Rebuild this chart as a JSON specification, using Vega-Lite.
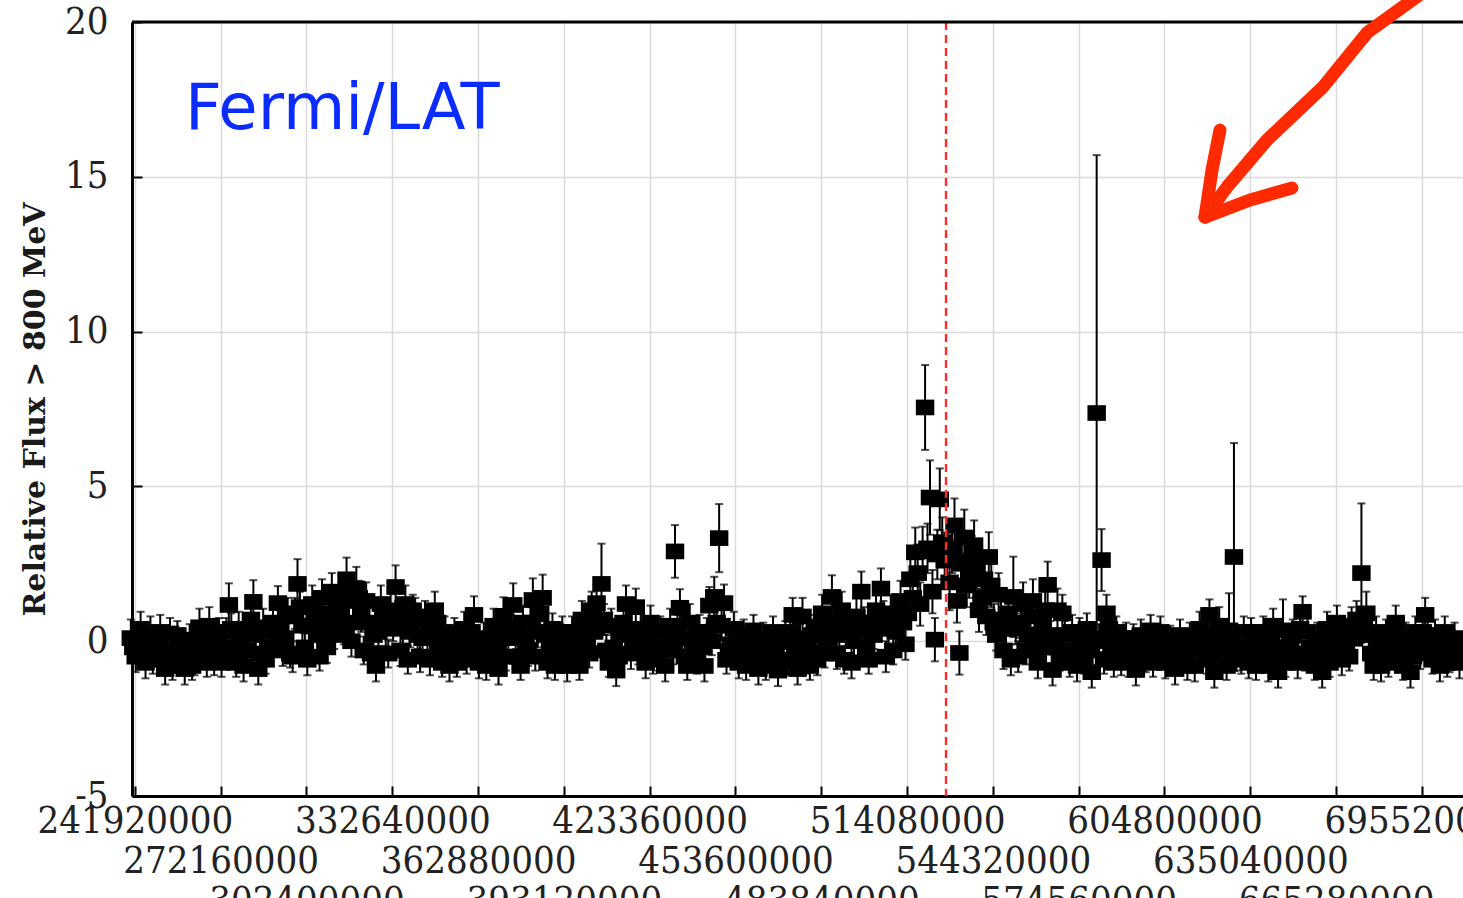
{
  "$schema": "https://vega.github.io/schema/vega-lite/v6.json",
  "width": 1331,
  "height": 774,
  "autosize": {"type": "none"},
  "padding": {"left": 132, "top": 22, "right": 0, "bottom": 102},
  "background": "white",
  "config": {
    "view": {"stroke": null},
    "axis": {
      "labelFont": "DejaVu Serif Condensed, DejaVu Serif",
      "labelColor": "#222222",
      "labelFontSize": 38,
      "labelLimit": 1000,
      "domainColor": "black",
      "domainWidth": 3,
      "tickColor": "black",
      "tickWidth": 2,
      "gridColor": "#dadada",
      "gridWidth": 1.5
    }
  },
  "datasets": {
    "flux": [
      {"t":240480000,"f":0.1,"e":0.6},{"t":242208000,"f":-0.5,"e":0.5},{"t":243936000,"f":0.4,"e":0.55},{"t":245664000,"f":-0.7,"e":0.5},{"t":247392000,"f":0.2,"e":0.6},{"t":249120000,"f":-0.3,"e":0.5},{"t":250848000,"f":0.3,"e":0.55},{"t":252576000,"f":-0.9,"e":0.5},{"t":254304000,"f":0.25,"e":0.5},{"t":256032000,"f":-0.4,"e":0.5},
      {"t":257760000,"f":-0.1,"e":0.5},{"t":259488000,"f":-0.9,"e":0.5},{"t":261216000,"f":0.05,"e":0.5},{"t":262944000,"f":-0.6,"e":0.5},{"t":264672000,"f":0.45,"e":0.6},{"t":266400000,"f":-0.3,"e":0.5},{"t":268128000,"f":0.5,"e":0.6},{"t":269856000,"f":-0.6,"e":0.5},{"t":271584000,"f":0.2,"e":0.55},{"t":273312000,"f":-0.2,"e":0.5},
      {"t":275040000,"f":1.17,"e":0.7},{"t":276768000,"f":-0.4,"e":0.5},{"t":278496000,"f":0.4,"e":0.55},{"t":280224000,"f":-0.8,"e":0.5},{"t":281952000,"f":0.3,"e":0.5},{"t":283680000,"f":1.27,"e":0.7},{"t":285408000,"f":-0.9,"e":0.5},{"t":287136000,"f":0.45,"e":0.6},{"t":288864000,"f":-0.2,"e":0.5},{"t":290592000,"f":0.6,"e":0.6},
      {"t":292320000,"f":1.23,"e":0.55},{"t":294048000,"f":-0.3,"e":0.5},{"t":295776000,"f":0.8,"e":0.6},{"t":297504000,"f":-0.5,"e":0.5},{"t":299232000,"f":1.85,"e":0.8},{"t":300960000,"f":0.5,"e":0.6},{"t":302688000,"f":-0.6,"e":0.5},{"t":304416000,"f":1.2,"e":0.6},{"t":306144000,"f":0.2,"e":0.55},{"t":307872000,"f":1.4,"e":0.6},
      {"t":309600000,"f":-0.2,"e":0.5},{"t":311328000,"f":1.6,"e":0.6},{"t":313056000,"f":0.7,"e":0.6},{"t":314784000,"f":1.5,"e":0.65},{"t":316512000,"f":2.0,"e":0.7},{"t":318240000,"f":0.0,"e":0.5},{"t":319968000,"f":1.7,"e":0.7},{"t":321696000,"f":0.9,"e":0.6},{"t":323424000,"f":1.3,"e":0.6},{"t":325152000,"f":-0.4,"e":0.5},
      {"t":326880000,"f":-0.8,"e":0.5},{"t":328608000,"f":1.2,"e":0.6},{"t":330336000,"f":0.4,"e":0.55},{"t":332064000,"f":1.0,"e":0.6},{"t":333792000,"f":1.75,"e":0.7},{"t":335520000,"f":-0.3,"e":0.5},{"t":337248000,"f":1.2,"e":0.6},{"t":338976000,"f":0.3,"e":0.5},{"t":340704000,"f":0.8,"e":0.6},{"t":342432000,"f":-0.5,"e":0.5},
      {"t":344160000,"f":0.7,"e":0.6},{"t":345888000,"f":-0.6,"e":0.5},{"t":347616000,"f":1.0,"e":0.6},{"t":349344000,"f":-0.1,"e":0.5},{"t":351072000,"f":0.3,"e":0.5},{"t":352800000,"f":-0.8,"e":0.5},{"t":354528000,"f":0.2,"e":0.55},{"t":356256000,"f":-0.4,"e":0.5},{"t":357984000,"f":0.4,"e":0.55},{"t":359712000,"f":-0.2,"e":0.5},
      {"t":361440000,"f":0.85,"e":0.6},{"t":363168000,"f":-0.7,"e":0.5},{"t":364896000,"f":0.1,"e":0.5},{"t":366624000,"f":-0.4,"e":0.5},{"t":368352000,"f":0.5,"e":0.55},{"t":370080000,"f":-0.9,"e":0.5},{"t":371808000,"f":0.82,"e":0.6},{"t":373536000,"f":0.1,"e":0.5},{"t":375264000,"f":1.17,"e":0.7},{"t":376992000,"f":-0.5,"e":0.5},
      {"t":378720000,"f":0.6,"e":0.55},{"t":380448000,"f":-0.3,"e":0.5},{"t":382176000,"f":1.33,"e":0.7},{"t":383904000,"f":0.3,"e":0.5},{"t":385632000,"f":1.4,"e":0.75},{"t":387360000,"f":-0.7,"e":0.5},{"t":389088000,"f":0.4,"e":0.5},{"t":390816000,"f":-0.2,"e":0.5},{"t":392544000,"f":0.3,"e":0.5},{"t":394272000,"f":-0.8,"e":0.5},
      {"t":396000000,"f":0.3,"e":0.5},{"t":397728000,"f":-0.5,"e":0.5},{"t":399456000,"f":0.7,"e":0.6},{"t":401184000,"f":0.0,"e":0.5},{"t":402912000,"f":1.0,"e":0.6},{"t":404640000,"f":1.23,"e":0.6},{"t":406368000,"f":1.85,"e":1.3},{"t":408096000,"f":-0.3,"e":0.5},{"t":409824000,"f":0.5,"e":0.55},{"t":411552000,"f":-0.95,"e":0.5},
      {"t":413280000,"f":0.2,"e":0.5},{"t":415008000,"f":1.2,"e":0.6},{"t":416736000,"f":-0.4,"e":0.5},{"t":418464000,"f":1.1,"e":0.6},{"t":420192000,"f":0.4,"e":0.55},{"t":421920000,"f":-0.7,"e":0.5},{"t":423648000,"f":0.6,"e":0.55},{"t":425376000,"f":-0.2,"e":0.5},{"t":427104000,"f":0.3,"e":0.5},{"t":428832000,"f":-0.8,"e":0.5},
      {"t":430560000,"f":0.5,"e":0.55},{"t":432288000,"f":2.9,"e":0.85},{"t":434016000,"f":1.08,"e":0.6},{"t":435744000,"f":-0.5,"e":0.5},{"t":437472000,"f":0.6,"e":0.6},{"t":439200000,"f":-0.1,"e":0.5},{"t":440928000,"f":0.3,"e":0.55},{"t":442656000,"f":-0.8,"e":0.5},{"t":444384000,"f":1.15,"e":0.6},{"t":446112000,"f":1.43,"e":0.65},
      {"t":447840000,"f":3.33,"e":1.1},{"t":449568000,"f":1.23,"e":0.6},{"t":451296000,"f":-0.3,"e":0.5},{"t":453024000,"f":0.4,"e":0.55},{"t":454752000,"f":-0.7,"e":0.5},{"t":456480000,"f":0.2,"e":0.5},{"t":458208000,"f":-0.4,"e":0.5},{"t":459936000,"f":0.35,"e":0.5},{"t":461664000,"f":-0.9,"e":0.5},{"t":463392000,"f":0.1,"e":0.5},
      {"t":465120000,"f":-0.5,"e":0.5},{"t":466848000,"f":0.3,"e":0.5},{"t":468576000,"f":-0.95,"e":0.5},{"t":470304000,"f":0.0,"e":0.5},{"t":472032000,"f":-0.6,"e":0.5},{"t":473760000,"f":0.85,"e":0.55},{"t":475488000,"f":-0.9,"e":0.5},{"t":477216000,"f":0.8,"e":0.6},{"t":478944000,"f":-0.3,"e":0.5},{"t":480672000,"f":0.2,"e":0.5},
      {"t":482400000,"f":-0.6,"e":0.5},{"t":484128000,"f":0.9,"e":0.6},{"t":485856000,"f":0.1,"e":0.5},{"t":487584000,"f":1.43,"e":0.7},{"t":489312000,"f":-0.4,"e":0.5},{"t":491040000,"f":1.0,"e":0.6},{"t":492768000,"f":0.3,"e":0.5},{"t":494496000,"f":-0.7,"e":0.5},{"t":496224000,"f":0.8,"e":0.6},{"t":497952000,"f":1.6,"e":0.65},
      {"t":499680000,"f":-0.2,"e":0.5},{"t":501408000,"f":0.6,"e":0.6},{"t":503136000,"f":1.0,"e":0.6},{"t":504864000,"f":1.7,"e":0.65},{"t":506592000,"f":-0.5,"e":0.5},{"t":508320000,"f":0.9,"e":0.6},{"t":510048000,"f":0.3,"e":0.55},{"t":511776000,"f":1.3,"e":0.65},{"t":513504000,"f":-0.1,"e":0.5},{"t":515232000,"f":2.0,"e":0.7},
      {"t":516960000,"f":2.87,"e":0.8},{"t":518688000,"f":1.2,"e":0.7},{"t":520416000,"f":7.55,"e":1.37},{"t":522144000,"f":4.64,"e":1.2},{"t":523872000,"f":0.05,"e":0.7},{"t":525600000,"f":4.58,"e":1.0},{"t":527328000,"f":2.6,"e":0.9},{"t":529056000,"f":1.9,"e":0.9},{"t":530784000,"f":3.74,"e":0.87},{"t":532512000,"f":-0.38,"e":0.7},
      {"t":534240000,"f":3.35,"e":0.9},{"t":535968000,"f":2.2,"e":0.8},{"t":537696000,"f":3.1,"e":0.8},{"t":539424000,"f":1.0,"e":0.7},{"t":541152000,"f":2.0,"e":0.8},{"t":542880000,"f":2.72,"e":0.8},{"t":544608000,"f":0.6,"e":0.6},{"t":546336000,"f":1.5,"e":0.7},{"t":548064000,"f":-0.3,"e":0.6},{"t":549792000,"f":0.9,"e":0.6},
      {"t":551520000,"f":1.43,"e":1.3},{"t":553248000,"f":-0.5,"e":0.5},{"t":554976000,"f":1.2,"e":0.7},{"t":556704000,"f":0.2,"e":0.6},{"t":558432000,"f":1.3,"e":0.7},{"t":560160000,"f":-0.7,"e":0.5},{"t":561888000,"f":0.5,"e":0.6},{"t":563616000,"f":1.82,"e":0.75},{"t":565344000,"f":-0.93,"e":0.5},{"t":567072000,"f":1.0,"e":0.7},
      {"t":568800000,"f":0.9,"e":0.6},{"t":570528000,"f":-0.4,"e":0.5},{"t":572256000,"f":0.3,"e":0.55},{"t":573984000,"f":-0.8,"e":0.5},{"t":575712000,"f":0.1,"e":0.5},{"t":577440000,"f":0.4,"e":0.5},{"t":579168000,"f":-1.0,"e":0.5},{"t":580896000,"f":7.37,"e":8.33},{"t":582624000,"f":2.62,"e":1.0},{"t":584352000,"f":0.9,"e":0.6},
      {"t":586080000,"f":-0.2,"e":0.5},{"t":587808000,"f":0.3,"e":0.5},{"t":589536000,"f":-0.6,"e":0.5},{"t":591264000,"f":0.1,"e":0.5},{"t":592992000,"f":-0.4,"e":0.5},{"t":594720000,"f":-0.93,"e":0.5},{"t":596448000,"f":0.2,"e":0.5},{"t":598176000,"f":-0.5,"e":0.5},{"t":599904000,"f":0.35,"e":0.5},{"t":601632000,"f":-0.2,"e":0.5},
      {"t":603360000,"f":0.3,"e":0.5},{"t":605088000,"f":-0.7,"e":0.5},{"t":606816000,"f":0.0,"e":0.5},{"t":608544000,"f":-0.9,"e":0.5},{"t":610272000,"f":0.2,"e":0.5},{"t":612000000,"f":-0.5,"e":0.5},{"t":613728000,"f":0.1,"e":0.5},{"t":615456000,"f":-0.8,"e":0.5},{"t":617184000,"f":0.4,"e":0.55},{"t":618912000,"f":-0.3,"e":0.5},
      {"t":620640000,"f":0.85,"e":0.5},{"t":622368000,"f":-1.0,"e":0.5},{"t":624096000,"f":0.5,"e":0.6},{"t":625824000,"f":-0.4,"e":0.5},{"t":627552000,"f":0.35,"e":1.2},{"t":629280000,"f":2.72,"e":3.68},{"t":631008000,"f":-0.2,"e":0.5},{"t":632736000,"f":0.3,"e":0.5},{"t":634464000,"f":-0.7,"e":0.5},{"t":636192000,"f":0.0,"e":0.5},
      {"t":637920000,"f":-0.5,"e":0.5},{"t":639648000,"f":0.3,"e":0.5},{"t":641376000,"f":-0.8,"e":0.5},{"t":643104000,"f":0.5,"e":0.55},{"t":644832000,"f":-1.0,"e":0.5},{"t":646560000,"f":0.35,"e":1.0},{"t":648288000,"f":-0.3,"e":0.5},{"t":650016000,"f":0.2,"e":0.5},{"t":651744000,"f":-0.7,"e":0.5},{"t":653472000,"f":0.95,"e":0.5},
      {"t":655200000,"f":0.3,"e":0.5},{"t":656928000,"f":-0.5,"e":0.5},{"t":658656000,"f":0.1,"e":0.5},{"t":660384000,"f":-1.0,"e":0.5},{"t":662112000,"f":0.4,"e":0.55},{"t":663840000,"f":-0.3,"e":0.5},{"t":665568000,"f":0.6,"e":0.55},{"t":667296000,"f":-0.6,"e":0.5},{"t":669024000,"f":0.2,"e":0.5},{"t":670752000,"f":0.5,"e":0.6},
      {"t":672480000,"f":0.7,"e":0.6},{"t":674208000,"f":2.2,"e":2.25},{"t":675936000,"f":0.9,"e":0.7},{"t":677664000,"f":-0.4,"e":0.5},{"t":679392000,"f":0.3,"e":0.5},{"t":681120000,"f":-0.8,"e":0.5},{"t":682848000,"f":0.2,"e":0.5},{"t":684576000,"f":-0.3,"e":0.5},{"t":686304000,"f":0.6,"e":0.55},{"t":688032000,"f":-0.5,"e":0.5},
      {"t":689760000,"f":0.1,"e":0.5},{"t":691488000,"f":-1.0,"e":0.5},{"t":693216000,"f":0.3,"e":0.5},{"t":694944000,"f":-0.4,"e":0.5},{"t":696672000,"f":0.85,"e":0.55},{"t":698400000,"f":-0.2,"e":0.5},{"t":700128000,"f":0.2,"e":0.5},{"t":701856000,"f":-0.8,"e":0.5},{"t":703584000,"f":0.3,"e":0.5},{"t":705312000,"f":-0.5,"e":0.5},
      {"t":707040000,"f":0.1,"e":0.5},{"t":708768000,"f":-0.7,"e":0.5},
      {"t":241344000,"f":-0.2,"e":0.45},{"t":243072000,"f":-0.1,"e":0.45},{"t":244800000,"f":-0.3,"e":0.45},{"t":246528000,"f":-0.2,"e":0.45},{"t":248256000,"f":-0.6,"e":0.45},{"t":249984000,"f":0.0,"e":0.45},{"t":251712000,"f":-0.4,"e":0.45},{"t":253440000,"f":-0.3,"e":0.45},{"t":255168000,"f":-0.8,"e":0.45},{"t":256896000,"f":0.2,"e":0.45},
      {"t":258624000,"f":-0.5,"e":0.45},{"t":260352000,"f":-0.3,"e":0.45},{"t":262080000,"f":-0.8,"e":0.45},{"t":263808000,"f":0.0,"e":0.45},{"t":265536000,"f":0.1,"e":0.45},{"t":267264000,"f":-0.7,"e":0.45},{"t":268992000,"f":0.0,"e":0.45},{"t":270720000,"f":-0.2,"e":0.45},{"t":272448000,"f":-0.7,"e":0.45},{"t":274176000,"f":0.3,"e":0.45},
      {"t":275904000,"f":0.4,"e":0.5},{"t":277632000,"f":-0.7,"e":0.45},{"t":279360000,"f":-0.1,"e":0.45},{"t":281088000,"f":-0.3,"e":0.45},{"t":282816000,"f":0.7,"e":0.5},{"t":284544000,"f":0.2,"e":0.45},{"t":286272000,"f":-0.4,"e":0.45},{"t":288000000,"f":-0.6,"e":0.45},{"t":289728000,"f":0.3,"e":0.45},{"t":291456000,"f":0.0,"e":0.45},
      {"t":293184000,"f":0.5,"e":0.5},{"t":294912000,"f":0.1,"e":0.45},{"t":296640000,"f":-0.4,"e":0.45},{"t":298368000,"f":0.9,"e":0.5},{"t":300096000,"f":1.1,"e":0.5},{"t":301824000,"f":-0.2,"e":0.45},{"t":303552000,"f":0.5,"e":0.5},{"t":305280000,"f":0.8,"e":0.5},{"t":307008000,"f":-0.5,"e":0.45},{"t":308736000,"f":0.6,"e":0.5},
      {"t":310464000,"f":0.9,"e":0.5},{"t":312192000,"f":0.2,"e":0.45},{"t":313920000,"f":1.1,"e":0.5},{"t":315648000,"f":0.4,"e":0.5},{"t":317376000,"f":1.3,"e":0.55},{"t":319104000,"f":0.6,"e":0.5},{"t":320832000,"f":1.4,"e":0.55},{"t":322560000,"f":-0.3,"e":0.45},{"t":324288000,"f":0.6,"e":0.5},{"t":326016000,"f":0.2,"e":0.45},
      {"t":327744000,"f":0.3,"e":0.45},{"t":329472000,"f":0.9,"e":0.5},{"t":331200000,"f":-0.4,"e":0.45},{"t":332928000,"f":0.5,"e":0.5},{"t":334656000,"f":0.8,"e":0.5},{"t":336384000,"f":0.4,"e":0.5},{"t":338112000,"f":-0.6,"e":0.45},{"t":339840000,"f":1.0,"e":0.5},{"t":341568000,"f":0.2,"e":0.45},{"t":343296000,"f":0.1,"e":0.45},
      {"t":345024000,"f":0.1,"e":0.45},{"t":346752000,"f":0.4,"e":0.45},{"t":348480000,"f":0.6,"e":0.5},{"t":350208000,"f":-0.7,"e":0.45},{"t":351936000,"f":-0.2,"e":0.45},{"t":353664000,"f":-0.3,"e":0.45},{"t":355392000,"f":-0.7,"e":0.45},{"t":357120000,"f":0.0,"e":0.45},{"t":358848000,"f":-0.6,"e":0.45},{"t":360576000,"f":0.3,"e":0.45},
      {"t":362304000,"f":0.0,"e":0.45},{"t":364032000,"f":-0.3,"e":0.45},{"t":365760000,"f":-0.8,"e":0.45},{"t":367488000,"f":0.1,"e":0.45},{"t":369216000,"f":-0.4,"e":0.45},{"t":370944000,"f":0.3,"e":0.45},{"t":372672000,"f":-0.5,"e":0.45},{"t":374400000,"f":0.4,"e":0.45},{"t":376128000,"f":0.2,"e":0.45},{"t":377856000,"f":-0.8,"e":0.45},
      {"t":379584000,"f":0.1,"e":0.45},{"t":381312000,"f":0.6,"e":0.5},{"t":383040000,"f":-0.5,"e":0.45},{"t":384768000,"f":0.9,"e":0.5},{"t":386496000,"f":0.2,"e":0.45},{"t":388224000,"f":-0.2,"e":0.45},{"t":389952000,"f":-0.8,"e":0.45},{"t":391680000,"f":0.1,"e":0.45},{"t":393408000,"f":-0.4,"e":0.45},{"t":395136000,"f":-0.1,"e":0.45},
      {"t":396864000,"f":-0.1,"e":0.45},{"t":398592000,"f":-0.8,"e":0.45},{"t":400320000,"f":0.4,"e":0.45},{"t":402048000,"f":-0.4,"e":0.45},{"t":403776000,"f":0.3,"e":0.45},{"t":405504000,"f":0.6,"e":0.5},{"t":407232000,"f":0.7,"e":0.5},{"t":408960000,"f":-0.7,"e":0.45},{"t":410688000,"f":-0.2,"e":0.45},{"t":412416000,"f":-0.5,"e":0.45},
      {"t":414144000,"f":0.6,"e":0.5},{"t":415872000,"f":0.3,"e":0.45},{"t":417600000,"f":0.1,"e":0.45},{"t":419328000,"f":-0.3,"e":0.45},{"t":421056000,"f":-0.1,"e":0.45},{"t":422784000,"f":0.0,"e":0.45},{"t":424512000,"f":-0.6,"e":0.45},{"t":426240000,"f":-0.5,"e":0.45},{"t":427968000,"f":-0.2,"e":0.45},{"t":429696000,"f":0.0,"e":0.45},
      {"t":431424000,"f":-0.3,"e":0.45},{"t":433152000,"f":0.4,"e":0.45},{"t":434880000,"f":0.1,"e":0.45},{"t":436608000,"f":-0.8,"e":0.45},{"t":438336000,"f":-0.5,"e":0.45},{"t":440064000,"f":-0.6,"e":0.45},{"t":441792000,"f":-0.2,"e":0.45},{"t":443520000,"f":0.3,"e":0.45},{"t":445248000,"f":0.0,"e":0.45},{"t":446976000,"f":0.6,"e":0.5},
      {"t":448704000,"f":0.5,"e":0.5},{"t":450432000,"f":-0.6,"e":0.45},{"t":452160000,"f":-0.1,"e":0.45},{"t":453888000,"f":-0.2,"e":0.45},{"t":455616000,"f":-0.4,"e":0.45},{"t":457344000,"f":-0.8,"e":0.45},{"t":459072000,"f":-0.1,"e":0.45},{"t":460800000,"f":-0.5,"e":0.45},{"t":462528000,"f":-0.3,"e":0.45},{"t":464256000,"f":-0.8,"e":0.45},
      {"t":465984000,"f":-0.1,"e":0.45},{"t":467712000,"f":-0.4,"e":0.45},{"t":469440000,"f":-0.6,"e":0.45},{"t":471168000,"f":0.2,"e":0.45},{"t":472896000,"f":0.3,"e":0.45},{"t":474624000,"f":-0.2,"e":0.45},{"t":476352000,"f":0.1,"e":0.45},{"t":478080000,"f":-0.6,"e":0.45},{"t":479808000,"f":-0.8,"e":0.45},{"t":481536000,"f":0.4,"e":0.45},
      {"t":483264000,"f":0.2,"e":0.45},{"t":484992000,"f":-0.4,"e":0.45},{"t":486720000,"f":0.6,"e":0.5},{"t":488448000,"f":0.5,"e":0.5},{"t":490176000,"f":0.2,"e":0.45},{"t":491904000,"f":-0.6,"e":0.45},{"t":493632000,"f":0.5,"e":0.5},{"t":495360000,"f":0.0,"e":0.45},{"t":497088000,"f":0.3,"e":0.45},{"t":498816000,"f":0.6,"e":0.5},
      {"t":500544000,"f":-0.6,"e":0.45},{"t":502272000,"f":0.2,"e":0.45},{"t":504000000,"f":0.5,"e":0.5},{"t":505728000,"f":0.8,"e":0.5},{"t":507456000,"f":0.4,"e":0.5},{"t":509184000,"f":-0.3,"e":0.45},{"t":510912000,"f":0.8,"e":0.5},{"t":512640000,"f":0.6,"e":0.5},{"t":514368000,"f":0.9,"e":0.5},{"t":516096000,"f":1.4,"e":0.6},
      {"t":517824000,"f":2.2,"e":0.8},{"t":519552000,"f":2.9,"e":0.8},{"t":521280000,"f":3.0,"e":0.8},{"t":523008000,"f":1.6,"e":0.7},{"t":524736000,"f":2.8,"e":0.8},{"t":526464000,"f":3.2,"e":0.8},{"t":528192000,"f":2.7,"e":0.8},{"t":529920000,"f":3.0,"e":0.8},{"t":531648000,"f":1.3,"e":0.7},{"t":533376000,"f":2.5,"e":0.8},
      {"t":535104000,"f":1.8,"e":0.7},{"t":536832000,"f":2.6,"e":0.8},{"t":538560000,"f":2.3,"e":0.7},{"t":540288000,"f":1.4,"e":0.7},{"t":542016000,"f":0.8,"e":0.6},{"t":543744000,"f":1.8,"e":0.7},{"t":545472000,"f":0.2,"e":0.5},{"t":547200000,"f":0.7,"e":0.6},{"t":548928000,"f":0.4,"e":0.5},{"t":550656000,"f":-0.6,"e":0.5},
      {"t":552384000,"f":0.4,"e":0.5},{"t":554112000,"f":0.6,"e":0.5},{"t":555840000,"f":-0.3,"e":0.45},{"t":557568000,"f":0.8,"e":0.5},{"t":559296000,"f":0.0,"e":0.45},{"t":561024000,"f":-0.2,"e":0.45},{"t":562752000,"f":1.0,"e":0.6},{"t":564480000,"f":0.2,"e":0.45},{"t":566208000,"f":-0.2,"e":0.45},{"t":567936000,"f":-0.5,"e":0.45},
      {"t":569664000,"f":0.2,"e":0.45},{"t":571392000,"f":-0.7,"e":0.45},{"t":573120000,"f":-0.3,"e":0.45},{"t":574848000,"f":0.3,"e":0.45},{"t":576576000,"f":-0.6,"e":0.45},{"t":578304000,"f":-0.3,"e":0.45},{"t":580032000,"f":0.0,"e":0.45},{"t":581760000,"f":0.1,"e":0.45},{"t":583488000,"f":-0.6,"e":0.45},{"t":585216000,"f":0.4,"e":0.45},
      {"t":586944000,"f":-0.7,"e":0.45},{"t":588672000,"f":0.0,"e":0.45},{"t":590400000,"f":-0.2,"e":0.45},{"t":592128000,"f":-0.7,"e":0.45},{"t":593856000,"f":0.1,"e":0.45},{"t":595584000,"f":-0.4,"e":0.45},{"t":597312000,"f":-0.1,"e":0.45},{"t":599040000,"f":0.0,"e":0.45},{"t":600768000,"f":-0.7,"e":0.45},{"t":602496000,"f":0.1,"e":0.45},
      {"t":604224000,"f":-0.2,"e":0.45},{"t":605952000,"f":-0.4,"e":0.45},{"t":607680000,"f":-0.5,"e":0.45},{"t":609408000,"f":-0.3,"e":0.45},{"t":611136000,"f":-0.1,"e":0.45},{"t":612864000,"f":-0.8,"e":0.45},{"t":614592000,"f":-0.2,"e":0.45},{"t":616320000,"f":-0.1,"e":0.45},{"t":618048000,"f":0.1,"e":0.45},{"t":619776000,"f":-0.6,"e":0.45},
      {"t":621504000,"f":0.2,"e":0.45},{"t":623232000,"f":-0.4,"e":0.45},{"t":624960000,"f":0.0,"e":0.45},{"t":626688000,"f":-0.8,"e":0.45},{"t":628416000,"f":-0.1,"e":0.45},{"t":630144000,"f":-0.5,"e":0.45},{"t":631872000,"f":-0.6,"e":0.45},{"t":633600000,"f":-0.2,"e":0.45},{"t":635328000,"f":0.3,"e":0.45},{"t":637056000,"f":-0.8,"e":0.45},
      {"t":638784000,"f":-0.2,"e":0.45},{"t":640512000,"f":-0.4,"e":0.45},{"t":642240000,"f":0.0,"e":0.45},{"t":643968000,"f":-0.5,"e":0.45},{"t":645696000,"f":-0.4,"e":0.45},{"t":647424000,"f":-0.7,"e":0.45},{"t":649152000,"f":-0.1,"e":0.45},{"t":650880000,"f":-0.4,"e":0.45},{"t":652608000,"f":0.4,"e":0.45},{"t":654336000,"f":-0.5,"e":0.45},
      {"t":656064000,"f":-0.2,"e":0.45},{"t":657792000,"f":-0.8,"e":0.45},{"t":659520000,"f":-0.4,"e":0.45},{"t":661248000,"f":-0.3,"e":0.45},{"t":662976000,"f":-0.7,"e":0.45},{"t":664704000,"f":0.1,"e":0.45},{"t":666432000,"f":-0.1,"e":0.45},{"t":668160000,"f":-0.3,"e":0.45},{"t":669888000,"f":-0.5,"e":0.45},{"t":671616000,"f":0.1,"e":0.45},
      {"t":673344000,"f":0.3,"e":0.45},{"t":675072000,"f":0.5,"e":0.5},{"t":676800000,"f":0.2,"e":0.45},{"t":678528000,"f":-0.8,"e":0.45},{"t":680256000,"f":-0.2,"e":0.45},{"t":681984000,"f":-0.4,"e":0.45},{"t":683712000,"f":-0.7,"e":0.45},{"t":685440000,"f":0.0,"e":0.45},{"t":687168000,"f":0.1,"e":0.45},{"t":688896000,"f":-0.8,"e":0.45},
      {"t":690624000,"f":-0.4,"e":0.45},{"t":692352000,"f":-0.5,"e":0.45},{"t":694080000,"f":-0.1,"e":0.45},{"t":695808000,"f":0.3,"e":0.45},{"t":697536000,"f":0.2,"e":0.45},{"t":699264000,"f":-0.6,"e":0.45},{"t":700992000,"f":-0.3,"e":0.45},{"t":702720000,"f":-0.2,"e":0.45},{"t":704448000,"f":-0.7,"e":0.45},{"t":706176000,"f":-0.1,"e":0.45},
      {"t":707904000,"f":-0.3,"e":0.45}
    ],
    "arrow": [
      {"seg":"shaft","i":0,"t":701902000,"f":21.36},
      {"seg":"shaft","i":1,"t":676173000,"f":19.65},
      {"seg":"shaft","i":2,"t":660666000,"f":17.9},
      {"seg":"shaft","i":3,"t":640928000,"f":16.19},
      {"seg":"shaft","i":4,"t":626831000,"f":14.67},
      {"seg":"shaft","i":5,"t":619077000,"f":13.7},
      {"seg":"headA","i":0,"t":619077000,"f":13.7},
      {"seg":"headA","i":1,"t":621544000,"f":15.22},
      {"seg":"headA","i":2,"t":624363000,"f":16.51},
      {"seg":"headB","i":0,"t":619077000,"f":13.7},
      {"seg":"headB","i":1,"t":634937000,"f":14.25},
      {"seg":"headB","i":2,"t":649740000,"f":14.64}
    ],
    "note": [{"t":259580000,"f":17.16,"label":"Fermi/LAT"}],
    "marker": [{"t":527800000,"f":20}]
  },
  "layer": [
    {
      "data": {"name": "flux"},
      "mark": {"type": "errorbar", "ticks": true, "size": 8, "thickness": 2, "color": "black"},
      "encoding": {
        "x": {"field": "t", "type": "quantitative", "title": null},
        "y": {"field": "f", "type": "quantitative", "title": "Relative Flux > 800 MeV"},
        "yError": {"field": "e"}
      }
    },
    {
      "data": {"name": "flux"},
      "mark": {"type": "point", "shape": "M-1,-0.85H1V0.85H-1Z", "filled": true, "color": "black", "size": 340, "opacity": 1, "strokeWidth": 0},
      "encoding": {
        "x": {
          "field": "t", "type": "quantitative", "title": null,
          "scale": {"domain": [240900000, 710008000], "nice": false, "zero": false},
          "axis": {
            "title": null,
            "values": [241920000, 272160000, 302400000, 332640000, 362880000, 393120000, 423360000, 453600000, 483840000, 514080000, 544320000, 574560000, 604800000, 635040000, 665280000, 695520000],
            "labelExpr": "[[datum.value + ''], ['\u200b', datum.value + ''], ['\u200b', '\u200b', datum.value + '']][round((datum.value - 241920000) / 30240000) % 3]",
            "labelOverlap": false,
            "labelFlush": false,
            "labelBaseline": "top",
            "labelLineHeight": 40,
            "labelPadding": 16,
            "tickSize": -10,
            "grid": true
          }
        },
        "y": {
          "field": "f", "type": "quantitative", "title": "Relative Flux > 800 MeV",
          "scale": {"domain": [-5, 20], "nice": false, "zero": false},
          "axis": {
            "title": "Relative Flux > 800 MeV",
            "titleFont": "DejaVu Serif",
            "titleFontWeight": "bold",
            "titleFontSize": 30,
            "titleColor": "#1a1a1a",
            "titlePadding": 14,
            "values": [-5, 0, 5, 10, 15, 20],
            "labelExpr": "datum.value + ''",
            "labelPadding": 34,
            "tickSize": -10,
            "labelOverlap": false,
            "labelFlush": false,
            "grid": true
          }
        }
      }
    },
    {
      "data": {"name": "marker"},
      "mark": {"type": "rule", "color": "#ff2b2b", "strokeWidth": 2.4, "strokeDash": [8, 5]},
      "encoding": {"x": {"field": "t", "type": "quantitative", "title": null}}
    },
    {
      "data": {"name": "marker"},
      "mark": {"type": "rule", "color": "black", "strokeWidth": 3},
      "encoding": {"y": {"field": "f", "type": "quantitative", "title": "Relative Flux > 800 MeV"}}
    },
    {
      "data": {"name": "arrow"},
      "mark": {"type": "line", "color": "#ff2a00", "strokeWidth": 13, "strokeCap": "round", "strokeJoin": "round", "clip": false},
      "encoding": {
        "x": {"field": "t", "type": "quantitative", "title": null},
        "y": {"field": "f", "type": "quantitative", "title": "Relative Flux > 800 MeV"},
        "detail": {"field": "seg"},
        "order": {"field": "i", "type": "quantitative"}
      }
    },
    {
      "data": {"name": "note"},
      "mark": {"type": "text", "color": "#0a2cff", "font": "DejaVu Sans", "fontSize": 64, "align": "left", "baseline": "middle"},
      "encoding": {
        "x": {"field": "t", "type": "quantitative", "title": null},
        "y": {"field": "f", "type": "quantitative", "title": "Relative Flux > 800 MeV"},
        "text": {"field": "label"}
      }
    }
  ]
}
